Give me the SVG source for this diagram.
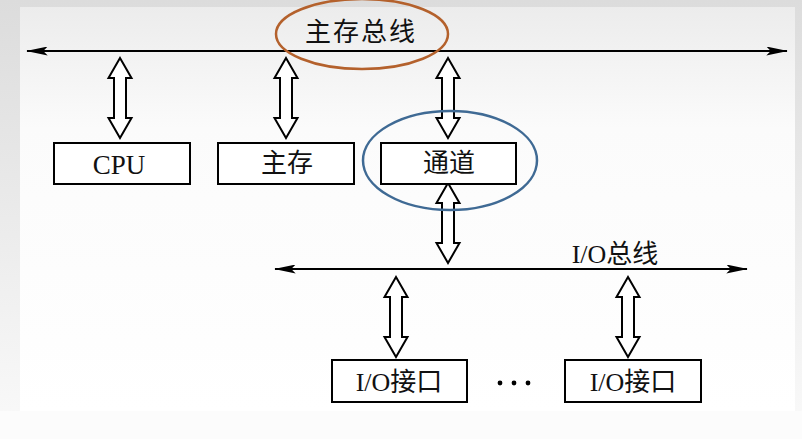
<svg xmlns="http://www.w3.org/2000/svg" width="802" height="439" viewBox="0 0 802 439">
<defs>
  <linearGradient id="bgOuter" x1="0" y1="0" x2="0" y2="1">
    <stop offset="0" stop-color="#dcdcdc"/>
    <stop offset="1" stop-color="#fafafa"/>
  </linearGradient>
  <linearGradient id="bgPanel" x1="0" y1="0" x2="0" y2="1">
    <stop offset="0" stop-color="#ececec"/>
    <stop offset="0.3" stop-color="#fbfbfb"/>
    <stop offset="1" stop-color="#ffffff"/>
  </linearGradient>
  <marker id="busHead" viewBox="0 0 24 10" markerUnits="userSpaceOnUse" markerWidth="24" markerHeight="9" refX="23" refY="5" orient="auto-start-reverse">
    <path d="M0,0 L24,5 L0,10 L5,5 Z" fill="#000"/>
  </marker>
  <path id="dbl" d="M0,0 L11.5,20 L6,20 L6,60 L11.5,60 L0,80 L-11.5,60 L-6,60 L-6,20 L-11.5,20 Z"/>
</defs>
<style>
  .box { fill: #fff; stroke: #000; stroke-width: 2; }
  .dbl { fill: #fff; stroke: #000; stroke-width: 2; stroke-linejoin: miter; }
  .bus { stroke: #000; stroke-width: 2.2; fill: none; }
  .lbl { font-family: "Liberation Serif", "Noto Sans CJK SC", serif; font-size: 26px; fill: #111; text-anchor: middle; }
  .lat { font-size: 27px; }
</style>

<rect x="0" y="0" width="802" height="439" fill="url(#bgOuter)"/>
<rect x="20" y="7" width="775" height="404" fill="url(#bgPanel)"/>
<rect x="0" y="411" width="802" height="28" fill="#fcfcfc"/>

<g id="connectors">
  <line class="bus" x1="27" y1="51" x2="787" y2="51" marker-start="url(#busHead)" marker-end="url(#busHead)"/>
  <line class="bus" x1="275" y1="269" x2="747" y2="269" marker-start="url(#busHead)" marker-end="url(#busHead)"/>
  <use href="#dbl" class="dbl" transform="translate(120,58)"/>
  <use href="#dbl" class="dbl" transform="translate(286,58)"/>
  <use href="#dbl" class="dbl" transform="translate(448,58)"/>
  <use href="#dbl" class="dbl" transform="translate(448,183)"/>
  <use href="#dbl" class="dbl" transform="translate(396,277)"/>
  <use href="#dbl" class="dbl" transform="translate(628,277)"/>
</g>

<g id="mainbus-label">
  <text class="lbl" x="361" y="41" style="letter-spacing:2px">主存总线</text>
  <ellipse cx="362" cy="34" rx="86" ry="35" fill="none" stroke="#b4612c" stroke-width="2.5"/>
</g>

<g id="iobus-label">
  <text class="lbl" x="615" y="263">I/O总线</text>
</g>

<g id="cpu">
  <rect class="box" x="54" y="143" width="136" height="41"/>
  <text class="lbl lat" x="119" y="174">CPU</text>
</g>

<g id="memory">
  <rect class="box" x="218" y="143" width="136" height="41"/>
  <text class="lbl" x="287" y="172">主存</text>
</g>

<g id="channel">
  <rect class="box" x="381" y="143" width="135" height="41"/>
  <text class="lbl" x="449" y="172">通道</text>
  <ellipse cx="450" cy="160.5" rx="87" ry="49.5" fill="none" stroke="#3f6a94" stroke-width="2.5"/>
</g>

<g id="io1">
  <rect class="box" x="332" y="360" width="135" height="42"/>
  <text class="lbl" x="399" y="391">I/O接口</text>
</g>

<g id="dots">
  <circle cx="500" cy="383" r="2.4" fill="#000"/>
  <circle cx="514" cy="383" r="2.4" fill="#000"/>
  <circle cx="528" cy="383" r="2.4" fill="#000"/>
</g>

<g id="io2">
  <rect class="box" x="565" y="360" width="136" height="42"/>
  <text class="lbl" x="633" y="391">I/O接口</text>
</g>
</svg>
